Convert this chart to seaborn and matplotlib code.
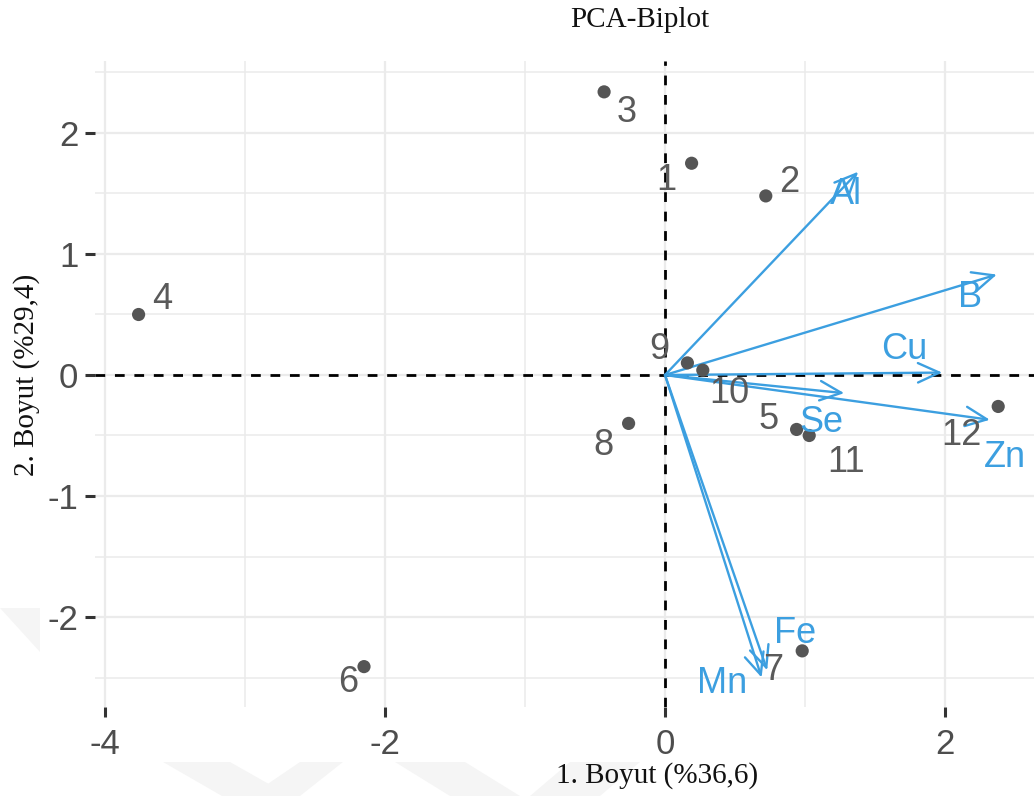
import matplotlib
matplotlib.use("Agg")
import matplotlib.pyplot as plt
import seaborn as sns
import pandas as pd
from matplotlib.patches import Polygon

# ---- data ----
obs_ids = ["1", "2", "3", "4", "5", "6", "7", "8", "9", "10", "11", "12"]
obs_pc1 = [0.19, 0.72, -0.435, -3.76, 0.94, -2.15, 0.98, -0.26, 0.16, 0.27, 1.03, 2.38]
obs_pc2 = [1.75, 1.48, 2.34, 0.50, -0.45, -2.41, -2.28, -0.40, 0.10, 0.04, -0.50, -0.26]

var_names = ["Al", "B", "Cu", "Se", "Zn", "Fe", "Mn"]
var_pc1 = [1.38, 2.37, 1.98, 1.28, 2.32, 0.73, 0.69]
var_pc2 = [1.68, 0.83, 0.02, -0.15, -0.37, -2.44, -2.50]

x_ticks = [-4, -2, 0, 2]
y_ticks = [-2, -1, 0, 1, 2]

title = "PCA-Biplot"
x_label = "1. Boyut (%36,6)"
y_label = "2. Boyut (%29,4)"

# label placement offsets (layout only)
obs_lab_dx = [-0.18, 0.17, 0.16, 0.17, -0.20, -0.11, -0.21, -0.18, -0.20, 0.19, 0.26, -0.26]
obs_lab_dy = [-0.14, 0.11, -0.17, 0.12, 0.08, -0.13, -0.16, -0.18, 0.11, -0.19, -0.22, -0.24]
var_lab_dx = [-0.09, -0.19, -0.27, -0.16, 0.11, 0.20, -0.28]
var_lab_dy = [-0.19, -0.19, 0.19, -0.24, -0.31, 0.30, -0.05]

grey_pt = "#555555"
grey_txt = "#5a5a5a"
blue = "#3C9FE0"

sns.set_theme(style="white")
plt.rcParams["font.family"] = ["Liberation Sans", "DejaVu Sans"]

fig = plt.figure(figsize=(10.34, 7.96), dpi=100)

# faint watermark shapes
wm = "#f5f5f5"
for poly in [
    [(0, 608), (40, 608), (40, 652)],
    [(163, 762), (230, 762), (290, 796), (222, 796)],
    [(343, 762), (300, 762), (250, 796), (300, 796)],
    [(395, 762), (465, 762), (520, 796), (450, 796)],
    [(640, 762), (570, 762), (530, 796), (600, 796)],
]:
    fig.patches.append(Polygon([(x / 1034, 1 - y / 796) for x, y in poly],
                               closed=True, transform=fig.transFigure,
                               facecolor=wm, edgecolor="none", zorder=0))

ax = fig.add_axes([95 / 1034, 1 - 707 / 796, 1 - 95 / 1034, (707 - 61) / 796])
ax.patch.set_alpha(0)

xl = ((95 - 665) / 140, (1034 - 665) / 140)
yl = ((375 - 707) / 121, (375 - 61) / 121)

# grid (major at ticks, minor halfway between)
gcol = "#EBEBEB"
for v in [-4, -2, 0, 2]:
    ax.axvline(v, color=gcol, lw=1.6, zorder=0)
for v in [-3, -1, 1]:
    ax.axvline(v, color=gcol, lw=1.1, zorder=0)
for v in [-2, -1, 0, 1, 2]:
    ax.axhline(v, color=gcol, lw=1.6, zorder=0)
for v in [-2.5, -1.5, -0.5, 0.5, 1.5, 2.5]:
    ax.axhline(v, color=gcol, lw=1.1, zorder=0)

ax.axhline(0, color="black", lw=2.0, ls=(0, (3.5, 3.5)), zorder=1)
ax.axvline(0, color="black", lw=2.0, ls=(0, (3.5, 3.5)), zorder=1)

df_obs = pd.DataFrame({"PC1": obs_pc1, "PC2": obs_pc2, "id": obs_ids})
sns.scatterplot(data=df_obs, x="PC1", y="PC2", ax=ax, color=grey_pt, s=90,
                edgecolor="none", zorder=3, legend=False)

for i, lab in enumerate(obs_ids):
    ax.text(obs_pc1[i] + obs_lab_dx[i], obs_pc2[i] + obs_lab_dy[i], lab,
            color=grey_txt, fontsize=26, ha="center", va="center", zorder=4)

for i, v in enumerate(var_names):
    ax.annotate("", xy=(var_pc1[i], var_pc2[i]), xytext=(0, 0),
                arrowprops=dict(arrowstyle="->,head_length=0.55,head_width=0.25",
                                color=blue, lw=1.7, shrinkA=0, shrinkB=0,
                                mutation_scale=28), zorder=2)
    ax.text(var_pc1[i] + var_lab_dx[i], var_pc2[i] + var_lab_dy[i], v,
            color=blue, fontsize=26, ha="center", va="center", zorder=4)

ax.set_xlim(*xl)
ax.set_ylim(*yl)
ax.set_xticks(x_ticks)
ax.set_yticks(y_ticks)
ax.set_xticklabels([f"{t}" for t in x_ticks])
ax.set_yticklabels([f"{t}" for t in y_ticks])
ax.tick_params(axis="both", which="major", length=7, width=2.2, color="#333333",
               labelcolor="#4D4D4D", labelsize=25, direction="out",
               bottom=True, left=True)
ax.tick_params(axis="x", pad=8)
ax.tick_params(axis="y", pad=5)
for s in ax.spines.values():
    s.set_visible(False)
ax.set_xlabel("")
ax.set_ylabel("")
ax.grid(False)

serif = ["Liberation Serif", "DejaVu Serif"]
fig.text(640 / 1034, 1 - 20 / 796, title, family=serif, fontsize=21,
         ha="center", va="center", color="#111111")
fig.text(657 / 1034, 1 - 776 / 796, x_label, family=serif, fontsize=21,
         ha="center", va="center", color="#111111")
fig.text(27 / 1034, 1 - 375 / 796, y_label, family=serif, fontsize=21,
         ha="center", va="center", rotation=90, color="#111111")

fig.savefig("out.png", dpi=100)
